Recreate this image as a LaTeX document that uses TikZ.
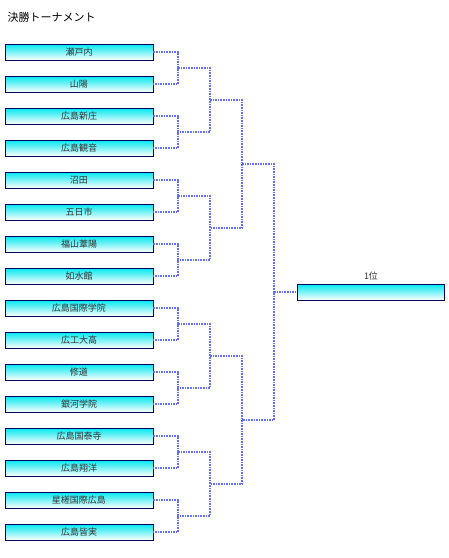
\documentclass[tikz,border=0pt]{standalone}
\usepackage{fontspec}
\newfontfamily\jp{Noto Sans CJK JP}
\definecolor{boxline}{RGB}{0,0,102}
\definecolor{boxtop}{RGB}{0,232,240}
\definecolor{linkcol}{RGB}{100,110,255}
\definecolor{txtcol}{RGB}{51,51,51}
\begin{document}
\begin{tikzpicture}[x=1pt,y=-1pt,
  team/.style={draw=boxline, line width=0.9pt, top color=boxtop, bottom color=white,
    minimum width=148pt, minimum height=16pt, inner sep=0pt, anchor=center,
    font=\jp\fontsize{9}{9}\selectfont, text=txtcol},
  link/.style={draw=linkcol, line width=1.6pt, dash pattern=on 1.6pt off 1pt}]
\useasboundingbox (0,0) rectangle (449,558);
\node[anchor=base west, font=\jp\fontsize{11}{12}\selectfont, text=black] (title) at (4,21) {決勝トーナメント};
\foreach \i/\name in {1/瀬戸内,2/山陽,3/広島新庄,4/広島観音,5/沼田,6/五日市,7/福山葦陽,8/如水館,
  9/広島国際学院,10/広工大高,11/修道,12/銀河学院,13/広島国泰寺,14/広島翔洋,15/星槎国際広島,16/広島皆実}
  \node[team] (t\i) at (79,{20+32*\i}) {\name};
\node[team, minimum width=147pt] (final) at (370.5,292) {};
\node[font=\jp\fontsize{9}{9}\selectfont, text=txtcol] (rank) at (371,276) {1位};
% round 1
\foreach \k in {1,...,8}{
  \pgfmathtruncatemacro{\a}{2*\k-1}
  \pgfmathtruncatemacro{\b}{2*\k}
  \coordinate (j\k) at (178,{20+32*\a+16});
  \draw[link] (t\a.east) -| (j\k) |- (t\b.east);
}
% round 2
\foreach \k in {1,...,4}{
  \pgfmathtruncatemacro{\a}{2*\k-1}
  \pgfmathtruncatemacro{\b}{2*\k}
  \coordinate (k\k) at (210,{68+128*(\k-1)+32});
  \draw[link] (j\a) -| (k\k) |- (j\b);
}
% round 3
\coordinate (m1) at (242,164);
\coordinate (m2) at (242,420);
\draw[link] (k1) -| (m1) |- (k2);
\draw[link] (k3) -| (m2) |- (k4);
% final
\coordinate (f) at (274,292);
\draw[link] (m1) -| (f) |- (m2);
\draw[link] (f) -- (final.west);
\end{tikzpicture}
\end{document}
